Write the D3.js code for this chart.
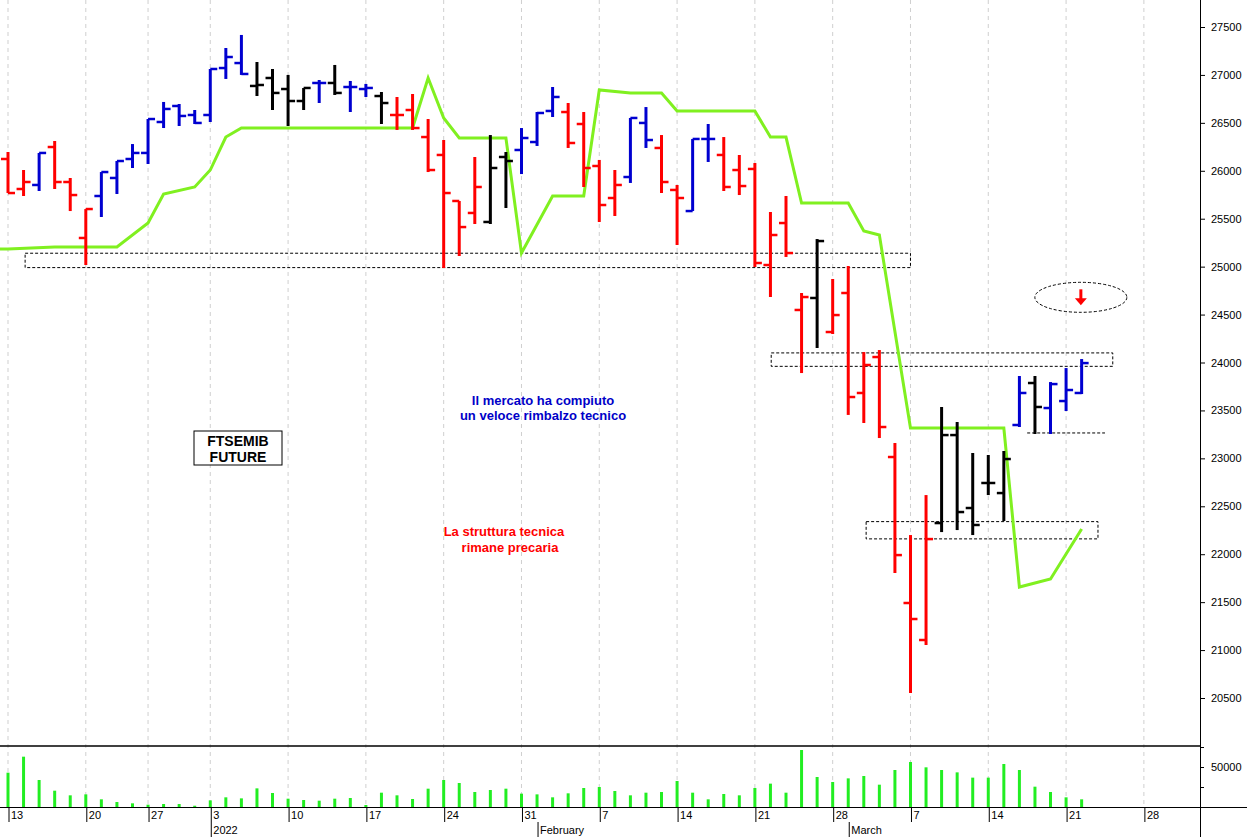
<!DOCTYPE html>
<html><head><meta charset="utf-8">
<script src="https://cdn.jsdelivr.net/npm/d3@7"></script>
<style>body{margin:0;background:#fff}svg{display:block;font-family:"Liberation Sans",Arial,sans-serif}</style>
</head><body><svg id="c" width="1247" height="837"></svg>
<script>
// trading days (Dec 13 2021 - Mar 22 2022)
const dates=["12-13","12-14","12-15","12-16","12-17","12-20","12-21","12-22","12-23","12-27","12-28","12-29","12-30",
"01-03","01-04","01-05","01-06","01-07","01-10","01-11","01-12","01-13","01-14","01-17","01-18","01-19","01-20","01-21",
"01-24","01-25","01-26","01-27","01-28","01-31","02-01","02-02","02-03","02-04","02-07","02-08","02-09","02-10","02-11",
"02-14","02-15","02-16","02-17","02-18","02-21","02-22","02-23","02-24","02-25","02-28","03-01","03-02","03-03","03-04",
"03-07","03-08","03-09","03-10","03-11","03-14","03-15","03-16","03-17","03-18","03-21","03-22"];
const open=[26123,25810,25852,26248,25883,25299,25737,25925,26123,26186,26509,26676,26582,
26582,27072,27124,26885,26968,26853,26728,26916,26916,26874,26853,26780,26582,26634,26352,
26165,25685,25560,25466,26144,26217,26300,26624,26613,26488,26050,25716,25935,26499,26238,
25800,25580,26332,26165,26008,26019,25017,25455,24548,24673,24318,24725,23682,24057,23014,
21491,21105,22325,23243,22482,22743,22638,23348,23786,23525,23598,23682];
const high=[26196,26008,26186,26311,25925,25601,25987,26102,26279,26540,26718,26697,26634,
27062,27281,27417,27135,27062,27000,26864,26947,27104,26937,26906,26822,26770,26801,26540,
26321,25685,26144,26373,26196,26446,26613,26874,26707,26613,26113,26008,26551,26665,26373,
25852,26332,26488,26352,26165,26081,25570,25737,24725,25288,24871,25007,24109,24130,23160,
22200,22617,23536,23379,23056,23035,23077,23859,23859,23796,23942,24036];
const low=[25768,25737,25789,25810,25580,25017,25518,25758,26029,26071,26446,26467,26488,
26509,26958,27000,26780,26634,26467,26634,26707,26791,26613,26770,26488,26426,26426,25987,
24986,25111,25445,25445,25612,25966,26259,26561,26238,25831,25466,25528,25873,26238,25768,
25226,25580,26092,25789,25747,24996,24683,25101,23890,24151,24297,23453,23369,23212,21804,
20552,21053,22231,22252,22200,22617,22346,23327,23254,23254,23494,23671];
const close=[25768,25883,26186,25883,25747,25601,25987,26102,26186,26540,26645,26572,26499,
27062,27187,27010,26895,26812,26728,26864,26916,26812,26874,26864,26707,26582,26446,26008,
25768,25413,25831,26029,26102,26342,26603,26770,26290,26029,25643,25852,26551,26321,25883,
25716,26332,26332,25831,25841,25038,25330,25142,24683,25267,24495,23640,23974,23327,21991,
21324,22158,23243,22440,22305,22743,22993,23682,23536,23775,23713,23994];
const signal="rrbrrrbbbbbbbbbbkkkkbkbbkrrrrrrkkbbbrrrrbbrrbbrrrrrrkrrrrrrrkkkkkbkbbb";
const volume=[42900,62900,33750,20400,14600,15800,9600,6250,4600,2900,3750,3750,1600,8300,12100,10800,23300,17500,
10400,8750,7900,10400,11250,2500,17900,14600,10000,22900,33750,30000,18750,21250,22900,16700,15800,12100,17100,
23750,25000,20000,14600,17900,18750,32500,17900,9600,16250,14600,23750,29200,17900,71250,37500,31250,35800,38750,
27900,46250,56250,49600,46250,43300,36700,36700,53750,46250,25400,18750,12100,9600];
// trend line (bar index, value)
const trendIdx=[0,3,7,9,10,12,13,14,15,26,27,28,29,32,33,35,37,38,40,42,43,48,49,50,51,54,55,56,58,64,65,67,69];
const trendVal=[25184,25205,25205,25455,25758,25831,26008,26352,26446,26446,26968,26551,26342,26342,25142,25737,25737,26843,26811,26811,26624,26624,26352,26352,25664,25664,25372,25330,23316,23316,21658,21742,22263];
const weekIdx=[0,5,9,13,18,23,28,33,38,43,48,53,58,63,68,73];
const weekLbl=["13","20","27","3","10","17","24","31","7","14","21","28","7","14","21","28"];
const monthIdx=[13,34,54];
const monthLbl=["2022","February","March"];
const priceTicks=d3.range(20500,27501,500);
// annotation zones: [startIdx,endIdx,low,high]
const zones=[[1.1,58.0,24990,25140],[49.05,71.0,23960,24100],[55.15,70.05,22160,22340]];
const supportLine=[65.5,70.5,23265];

const svg=d3.select("#c");
const x=d3.scaleLinear().domain([0,73]).range([8,8+73*15.56]);
const y=d3.scaleLinear().domain([20500,27500]).range([698,27]);
const yv=d3.scaleLinear().domain([0,50000]).range([807,767]);
const col={r:"#ff0000",b:"#0000d0",k:"#000000"};
const W=1200;

weekIdx.forEach(i=>{
  svg.append("line").attr("x1",x(i)).attr("x2",x(i)).attr("y1",0).attr("y2",807)
   .attr("stroke","#cfcfcf").attr("stroke-dasharray","4,4");
});
zones.forEach(z=>{
  svg.append("rect").attr("x",x(z[0])).attr("width",x(z[1])-x(z[0])).attr("y",y(z[3])).attr("height",y(z[2])-y(z[3]))
   .attr("fill","none").attr("stroke","#000").attr("stroke-dasharray","3,2").attr("stroke-width",1);
});
svg.append("line").attr("x1",x(supportLine[0])).attr("x2",x(supportLine[1])).attr("y1",y(supportLine[2])).attr("y2",y(supportLine[2]))
 .attr("stroke","#000").attr("stroke-dasharray","3,2");
const ax=x(68.95), ay=y(24680);
svg.append("ellipse").attr("cx",ax).attr("cy",ay).attr("rx",46).attr("ry",15)
 .attr("fill","none").attr("stroke","#000").attr("stroke-dasharray","3,2");
svg.append("line").attr("x1",ax).attr("x2",ax).attr("y1",ay-8).attr("y2",ay+2).attr("stroke","#f00").attr("stroke-width",3);
svg.append("path").attr("d",`M${ax-6},${ay+1}L${ax+6},${ay+1}L${ax},${ay+8}Z`).attr("fill","#f00");

svg.append("path").datum(trendIdx.map((d,i)=>[d,trendVal[i]]))
 .attr("d",d3.line().x(d=>x(d[0])).y(d=>y(d[1])))
 .attr("fill","none").attr("stroke","#80f020").attr("stroke-width",3);
svg.append("line").attr("x1",0).attr("x2",x(0)).attr("y1",y(25184)).attr("y2",y(25184)).attr("stroke","#80f020").attr("stroke-width",3);

const g=svg.append("g");
dates.forEach((d,i)=>{
  const c=col[signal[i]], cx=x(i);
  g.append("line").attr("x1",cx).attr("x2",cx).attr("y1",y(high[i])).attr("y2",y(low[i])).attr("stroke",c).attr("stroke-width",3);
  g.append("line").attr("x1",cx-7).attr("x2",cx).attr("y1",y(open[i])).attr("y2",y(open[i])).attr("stroke",c).attr("stroke-width",2.5);
  g.append("line").attr("x1",cx).attr("x2",cx+7).attr("y1",y(close[i])).attr("y2",y(close[i])).attr("stroke",c).attr("stroke-width",2.5);
});

const t1=svg.append("text").attr("text-anchor","middle").attr("fill","#0000c8").attr("font-size",13).attr("font-weight","bold");
t1.append("tspan").attr("x",543).attr("y",405).text("Il mercato ha compiuto");
t1.append("tspan").attr("x",543).attr("y",420).text("un veloce rimbalzo tecnico");
const t2=svg.append("text").attr("text-anchor","middle").attr("fill","#ff0000").attr("font-size",13).attr("font-weight","bold");
t2.append("tspan").attr("x",504).attr("y",536).text("La struttura tecnica");
t2.append("tspan").attr("x",510).attr("y",552).text("rimane precaria");
svg.append("rect").attr("x",194).attr("y",431).attr("width",88).attr("height",34).attr("fill","#fff").attr("stroke","#000");
const t3=svg.append("text").attr("text-anchor","middle").attr("fill","#000").attr("font-size",14).attr("font-weight","bold");
t3.append("tspan").attr("x",238).attr("y",446).text("FTSEMIB");
t3.append("tspan").attr("x",238).attr("y",462).text("FUTURE");

svg.selectAll(".v").data(volume).join("line").attr("x1",(d,i)=>x(i)).attr("x2",(d,i)=>x(i))
 .attr("y1",yv(0)).attr("y2",d=>yv(d)).attr("stroke","#22ee22").attr("stroke-width",3);

svg.append("line").attr("x1",0).attr("x2",W).attr("y1",746).attr("y2",746).attr("stroke","#000").attr("stroke-width",1.5);
svg.append("line").attr("x1",0).attr("x2",1247).attr("y1",807.5).attr("y2",807.5).attr("stroke","#000");
svg.append("line").attr("x1",W+0.5).attr("x2",W+0.5).attr("y1",0).attr("y2",837).attr("stroke","#000");

const yAxis=d3.axisRight(y).tickValues(priceTicks).tickSize(5).tickFormat(d3.format("d"));
const ya=svg.append("g").attr("transform",`translate(${W},0)`).call(yAxis);
ya.select(".domain").remove();
ya.selectAll("text").attr("x",11).attr("font-size",11).attr("font-family","Liberation Sans,Arial");
const vAxis=d3.axisRight(yv).tickValues([0,25000,50000,75000]).tickSize(4).tickFormat(d=>d===50000?"50000":"");
const va=svg.append("g").attr("transform",`translate(${W},0)`).call(vAxis);
va.select(".domain").remove();
va.selectAll("text").attr("x",11).attr("font-size",11);

weekIdx.forEach((i,k)=>{
  const xx=x(i)+1;
  svg.append("line").attr("x1",xx).attr("x2",xx).attr("y1",808).attr("y2",822).attr("stroke","#000");
  svg.append("text").attr("x",xx+2).attr("y",819).attr("font-size",11).text(weekLbl[k]);
});
monthIdx.forEach((i,k)=>{
  const xx=x(i)+1;
  svg.append("line").attr("x1",xx).attr("x2",xx).attr("y1",822).attr("y2",837).attr("stroke","#000");
  svg.append("text").attr("x",xx+2).attr("y",834).attr("font-size",11).text(monthLbl[k]);
});
</script></body></html>
